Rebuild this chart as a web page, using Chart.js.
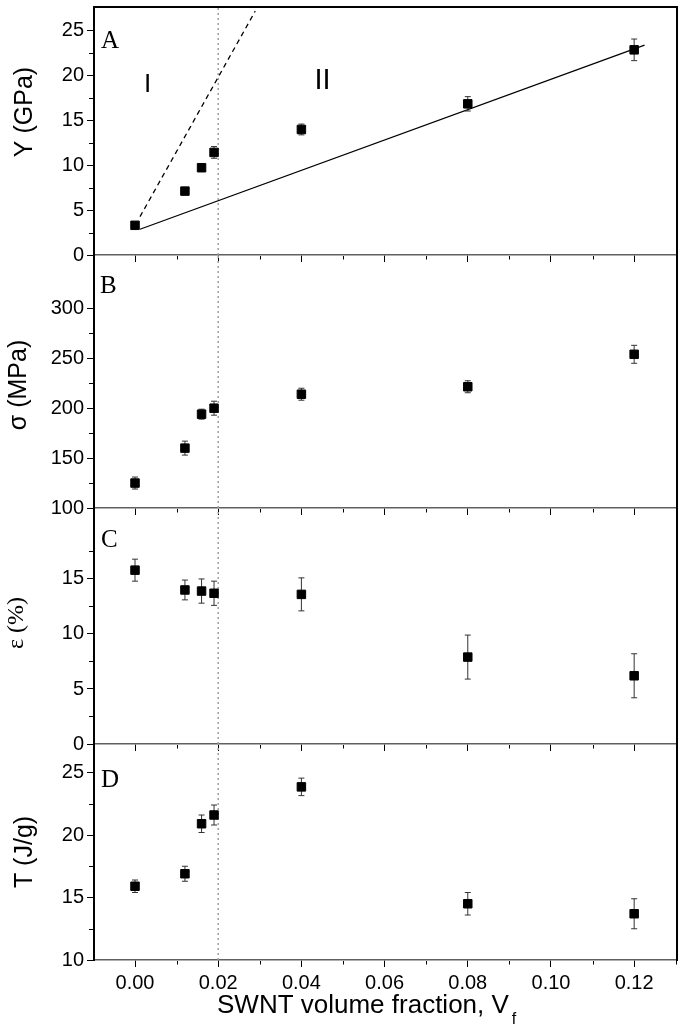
<!DOCTYPE html>
<html><head><meta charset="utf-8">
<script src="https://cdn.jsdelivr.net/npm/chart.js@4.4.1/dist/chart.umd.min.js"></script>
<style>
html,body{margin:0;padding:0;background:#fff;}
#wrap{position:relative;width:685px;height:1034px;overflow:hidden;background:#fff;}
canvas{position:absolute;left:0;}
</style></head><body><div id="wrap">
<canvas id="cA"></canvas><canvas id="cB"></canvas><canvas id="cC"></canvas><canvas id="cD"></canvas>
</div>
<script>
// ---- data ----
const vf = [0, 0.012, 0.016, 0.019, 0.04, 0.08, 0.12];
const modulus = [3.3, 7.1, 9.7, 11.4, 13.95, 16.8, 22.8];
const modulusErr = [0.3, 0.2, 0.4, 0.65, 0.6, 0.8, 1.2];
const strength = [125, 160, 194, 200, 214, 221.5, 254];
const strengthErr = [6, 7, 5, 7, 6, 6, 9];
const strain = [15.8, 14.0, 13.9, 13.7, 13.6, 7.9, 6.2];
const strainErr = [1.0, 0.9, 1.1, 1.1, 1.5, 2.0, 2.0];
const toughness = [15.9, 16.9, 20.9, 21.6, 23.85, 14.5, 13.7];
const toughnessErr = [0.5, 0.6, 0.7, 0.8, 0.7, 0.9, 1.2];
const fitRegionII_x = [0.0012, 0.1225];
const fitRegionII_y = [2.86, 23.33];
const fitRegionI_x = [0.0012, 0.0289];
const fitRegionI_y = [4.26, 27.1];
const percolationX = 0.02;
const xTicks = [0, 0.02, 0.04, 0.06, 0.08, 0.10, 0.12];
const xMinor = [0.01, 0.03, 0.05, 0.07, 0.09, 0.11, 0.13];
const yTicksA = [0, 5, 10, 15, 20, 25], yMinorA = [2.5, 7.5, 12.5, 17.5, 22.5];
const yTicksB = [100, 150, 200, 250, 300], yMinorB = [125, 175, 225, 275];
const yTicksC = [0, 5, 10, 15], yMinorC = [2.5, 7.5, 12.5, 17.5];
const yTicksD = [10, 15, 20, 25], yMinorD = [12.5, 17.5, 22.5];

const SANS = '"Liberation Sans", Arial, sans-serif';
const SERIF = '"Liberation Serif", "Times New Roman", serif';
const X_MIN = -0.00986, X_MAX = 0.1303;

function pts(xs, ys) { return xs.map((x, i) => ({x, y: ys[i]})); }
function errPts(xs, ys, es) {
  const d = [];
  xs.forEach((x, i) => { d.push({x, y: ys[i] - es[i]}, {x, y: ys[i] + es[i]}, {x, y: null}); });
  return d;
}

const decor = {
  id: 'decor',
  afterDraw(chart, args, o) {
    const {ctx, chartArea: a, scales: {x, y}} = chart;
    const off = o.canvasTop;
    ctx.save();
    ctx.strokeStyle = '#000'; ctx.lineWidth = 1;
    ctx.beginPath();
    o.yMinor.forEach(v => { const py = Math.round(y.getPixelForValue(v)) + 0.5; ctx.moveTo(a.left - 1, py); ctx.lineTo(a.left - 5, py); });
    xMinor.forEach(v => { const px = Math.round(x.getPixelForValue(v)) + 0.5; if (px <= a.right) { ctx.moveTo(px, a.bottom + 1); ctx.lineTo(px, a.bottom + 4.5); } });
    ctx.stroke();
    // right border
    ctx.lineWidth = 2; ctx.strokeStyle = '#000';
    ctx.beginPath(); ctx.moveTo(a.right, a.top - (o.topBorder ? 1 : 0)); ctx.lineTo(a.right, a.bottom + 1); ctx.stroke();
    if (o.topBorder) { ctx.beginPath(); ctx.moveTo(a.left - 1, a.top); ctx.lineTo(a.right + 1, a.top); ctx.stroke(); }
    // texts
    ctx.fillStyle = '#000';
    o.texts.forEach(t => {
      ctx.save();
      ctx.font = t.font;
      ctx.textAlign = t.align || 'left';
      ctx.textBaseline = t.baseline || 'alphabetic';
      ctx.translate(t.x, t.y - off);
      if (t.rot) ctx.rotate(t.rot);
      ctx.fillText(t.text, 0, 0);
      if (t.sub) {
        const w = ctx.measureText(t.text).width;
        ctx.font = t.subFont;
        ctx.fillText(t.sub, w + 3, 11);
      }
      ctx.restore();
    });
    ctx.restore();
  }
};

function buildPanel(id, p) {
  const cv = document.getElementById(id);
  const canvasTop = Math.max(0, p.top - 30);
  const padTop = p.top - canvasTop;
  const xH = p.last ? (1034 - p.bottom) : 30;
  const H = p.bottom + xH - canvasTop;
  cv.style.top = canvasTop + 'px';
  cv.width = 685; cv.height = H;
  cv.style.width = '685px'; cv.style.height = H + 'px';
  const datasets = [
    {data: pts(vf, p.values), pointStyle: 'rect', pointRadius: 6, pointHoverRadius: 6,
     backgroundColor: '#000', borderColor: '#000', borderWidth: 1, showLine: false, order: 0},
    {data: errPts(vf, p.values, p.errs), showLine: true, spanGaps: false, pointStyle: 'line',
     pointRadius: 3, pointHoverRadius: 3, borderColor: '#333', backgroundColor: '#333', borderWidth: 1, pointBorderWidth: 1, order: 1},
    {data: [{x: percolationX, y: p.ymin}, {x: percolationX, y: p.ymax}], showLine: true, pointRadius: 0,
     borderColor: '#a0a0a0', borderWidth: 1.5, borderDash: [2, 3], order: 3}
  ].concat(p.extra || []);
  new Chart(cv, {
    type: 'scatter',
    data: {datasets},
    plugins: [decor],
    options: {
      responsive: false, animation: false, devicePixelRatio: 1,
      layout: {padding: {top: padTop, left: 0, right: 8, bottom: 0}},
      plugins: {legend: {display: false}, tooltip: {enabled: false}, decor: {canvasTop, yMinor: p.yMinor, texts: p.texts, topBorder: !!p.first}},
      scales: {
        x: {
          type: 'linear', position: 'bottom', min: X_MIN, max: X_MAX,
          afterBuildTicks: s => { s.ticks = xTicks.map(v => ({value: v})); },
          afterFit: s => { s.height = xH; s.paddingLeft = 0; s.paddingRight = 0; s.paddingTop = 0; s.paddingBottom = 0; },
          ticks: {display: !!p.last, color: '#000', font: {family: SANS, size: 20}, padding: 4,
                  callback: v => v.toFixed(2), autoSkip: false, maxRotation: 0},
          grid: {display: true, drawOnChartArea: false, drawTicks: true, tickLength: 7, tickColor: '#000', tickWidth: 1},
          border: {display: true, color: '#606060', width: 1.5}
        },
        y: {
          type: 'linear', position: 'left', min: p.ymin, max: p.ymax,
          afterBuildTicks: s => { s.ticks = p.yTicks.map(v => ({value: v})); },
          afterFit: s => { s.width = 94; s.paddingLeft = 0; s.paddingRight = 0; s.paddingTop = 0; s.paddingBottom = 0; },
          ticks: {color: '#000', font: {family: SANS, size: 20}, padding: 3, callback: v => String(v), autoSkip: false},
          grid: {display: true, drawOnChartArea: false, drawTicks: true, tickLength: 7, tickColor: '#000', tickWidth: 1},
          border: {display: true, color: '#000', width: 2}
        }
      }
    }
  });
}

const ROT = -Math.PI / 2;
buildPanel('cA', {
  top: 7, bottom: 255, ymin: 0, ymax: 27.56, values: modulus, errs: modulusErr,
  yTicks: yTicksA, yMinor: yMinorA, first: true,
  extra: [
    {data: pts(fitRegionII_x, fitRegionII_y), showLine: true, pointRadius: 0, borderColor: '#000', borderWidth: 1.3, order: 2},
    {data: pts(fitRegionI_x, fitRegionI_y), showLine: true, pointRadius: 0, borderColor: '#000', borderWidth: 1.3, borderDash: [5, 4], order: 2}
  ],
  texts: [
    {text: 'A', x: 101, y: 48, font: '25px ' + SERIF},
    {text: 'I', x: 147.5, y: 92, font: '26px ' + SANS, align: 'center'},
    {text: 'II', x: 322.5, y: 89, font: '29px ' + SANS, align: 'center'},
    {text: 'Y (GPa)', x: 25, y: 112, font: '25px ' + SANS, align: 'center', baseline: 'middle', rot: ROT}
  ]
});
buildPanel('cB', {
  top: 255, bottom: 508, ymin: 100, ymax: 353.5, values: strength, errs: strengthErr,
  yTicks: yTicksB, yMinor: yMinorB,
  texts: [
    {text: 'B', x: 100, y: 293, font: '25px ' + SERIF},
    {text: 'σ (MPa)', x: 19, y: 385, font: '25px ' + SANS, align: 'center', baseline: 'middle', rot: ROT}
  ]
});
buildPanel('cC', {
  top: 508, bottom: 744, ymin: 0, ymax: 21.45, values: strain, errs: strainErr,
  yTicks: yTicksC, yMinor: yMinorC,
  texts: [
    {text: 'C', x: 101, y: 547, font: '25px ' + SERIF},
    {text: 'ε (%)', x: 17, y: 623, font: '24px ' + SERIF, align: 'center', baseline: 'middle', rot: ROT}
  ]
});
buildPanel('cD', {
  top: 744, bottom: 960, ymin: 10, ymax: 27.28, values: toughness, errs: toughnessErr,
  yTicks: yTicksD, yMinor: yMinorD, last: true,
  texts: [
    {text: 'D', x: 101, y: 787, font: '25px ' + SERIF},
    {text: 'T (J/g)', x: 25, y: 852, font: '25px ' + SANS, align: 'center', baseline: 'middle', rot: ROT},
    {text: 'SWNT volume fraction, V', x: 217, y: 1013, font: '26px ' + SANS, sub: 'f', subFont: '16px ' + SANS}
  ]
});
</script>
</body></html>
